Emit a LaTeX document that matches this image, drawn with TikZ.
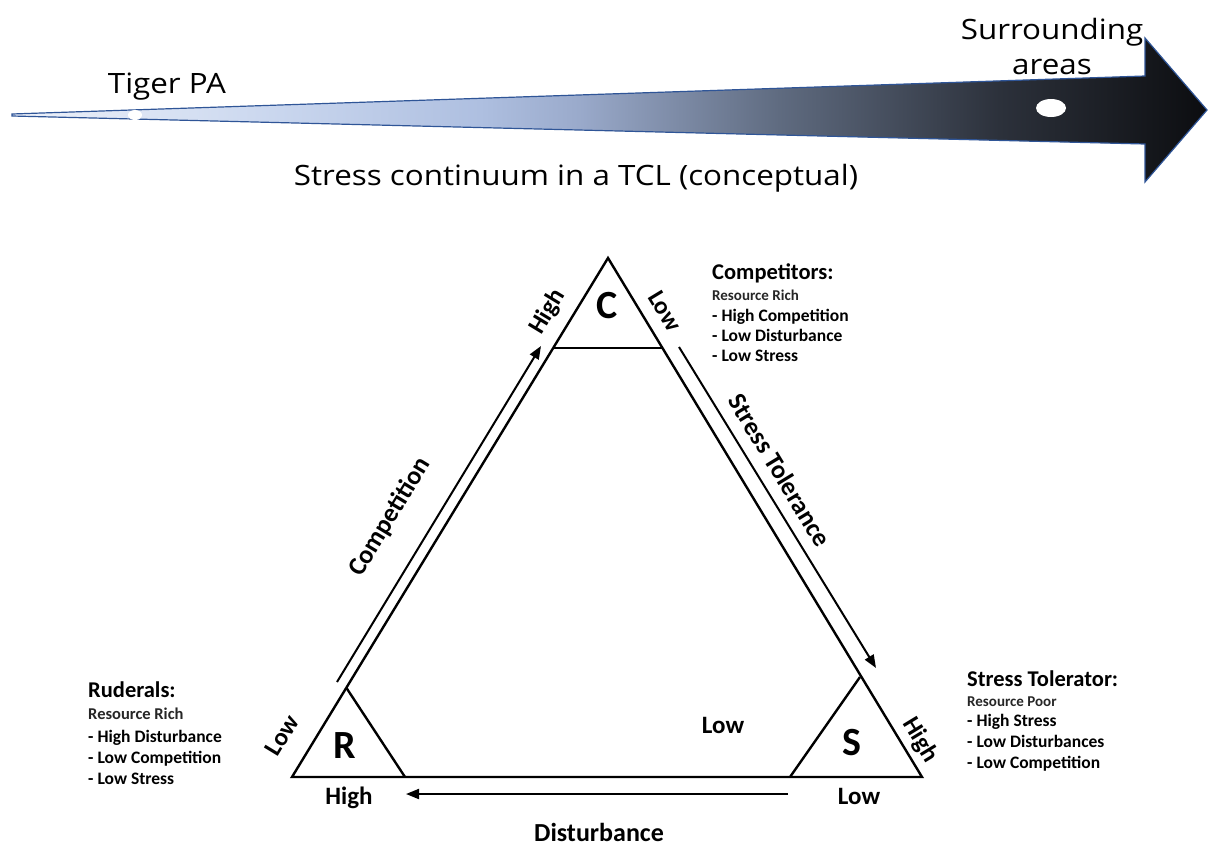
\documentclass[tikz,border=0pt]{standalone}
\usepackage{fontspec}
\setmainfont{Carlito}
\newfontfamily\topfont{Open Sans}
\usetikzlibrary{arrows.meta}
\definecolor{g0}{HTML}{EEF2FA}
\definecolor{g1}{HTML}{C9D6EE}
\definecolor{g2}{HTML}{AEBFE0}
\definecolor{g3}{HTML}{9AAACB}
\definecolor{g4}{HTML}{5F6B80}
\definecolor{g5}{HTML}{2C313B}
\definecolor{g6}{HTML}{0C0D10}
\definecolor{arrowblue}{HTML}{2F5597}
\pgfdeclarehorizontalshading{stressgrad}{100bp}{color(0bp)=(g0); color(25bp)=(g0); color(36.2bp)=(g1); color(44.6bp)=(g2); color(48.7bp)=(g3); color(57.1bp)=(g4); color(66.3bp)=(g5); color(75bp)=(g6); color(100bp)=(g6)}
\tikzset{
  tri/.style={line width=2.4pt, line join=miter},
  flow/.style={line width=2pt, -{Triangle[length=13pt,width=10pt]}},
  toptext/.style={font=\topfont\fontsize{28}{35}\selectfont, inner sep=0pt, xscale=1.12},
  corner/.style={font=\bfseries\fontsize{40}{40}\selectfont, inner sep=0pt},
  lbl/.style={font=\bfseries\fontsize{25}{25}\selectfont, inner sep=0pt},
  axis/.style={font=\bfseries\fontsize{26}{26}\selectfont, inner sep=0pt},
  infotitle/.style={font=\bfseries\fontsize{22.5}{22.5}\selectfont, inner sep=0pt, anchor=base west},
  infosub/.style={font=\bfseries\fontsize{15}{15}\selectfont, inner sep=0pt, anchor=base west, text=black!85},
  infoitem/.style={font=\bfseries\fontsize{17.5}{17.5}\selectfont, inner sep=0pt, anchor=base west},
}
\begin{document}
\begin{tikzpicture}[x=1pt,y=-1pt]
\useasboundingbox (0,0) rectangle (1208,844);
% ---------- top gradient arrow ----------
\path[shading=stressgrad, draw=arrowblue, line width=1.2pt, line join=miter]
  (12,114) -- (1145,76) -- (1145,38) -- (1207,110) -- (1145,182) -- (1145,144) -- (12,116) -- cycle;
\fill[white] (135,115) ellipse [x radius=7, y radius=5];
\fill[white] (1051,108) ellipse [x radius=15, y radius=9];
\node[toptext] (tiger) at (167,87) {Tiger PA};
\node[toptext, align=center] (surr) at (1052,46) {Surrounding\\areas};
\node[toptext] (cont) at (576,178) {Stress continuum in a TCL (conceptual)};
% ---------- triangle ----------
\coordinate (Capex) at (608,258);
\coordinate (Rc) at (292,777);
\coordinate (Sc) at (922,777);
\draw[tri] (Rc) -- (Capex) -- (Sc) -- cycle;
\coordinate (cl) at (553.3,348);
\coordinate (cr) at (662.3,348);
\draw[tri] (cl) -- (cr);
\coordinate (rt) at (346.5,688);
\coordinate (rb) at (405,777);
\draw[tri] (rt) -- (rb);
\coordinate (st) at (860,677);
\coordinate (sb) at (790,777);
\draw[tri] (st) -- (sb);
% ---------- axis arrows ----------
\coordinate (compA) at (337,682);
\coordinate (compB) at (541,346);
\draw[flow] (compA) -- (compB);
\coordinate (stA) at (679,347);
\coordinate (stB) at (876,668);
\draw[flow] (stA) -- (stB);
\coordinate (diA) at (788,794);
\coordinate (diB) at (406,794);
\draw[flow] (diA) -- (diB);
% ---------- corner letters ----------
\node[corner] (C) at (607,306) {C};
\node[corner] (R) at (345,746) {R};
\node[corner] (S) at (852,743) {S};
% ---------- High / Low labels ----------
\node[lbl, rotate=58.7] (hiC) at (548,312) {High};
\node[lbl, rotate=-58.7] (loC) at (665,311) {Low};
\node[lbl, rotate=58.7] (loR) at (282,735) {Low};
\node[lbl] (hiR) at (349,798) {High};
\node[lbl] (loIn) at (723,725) {Low};
\node[lbl] (loS) at (859,796) {Low};
\node[lbl, rotate=-58.7] (hiS) at (920,740) {High};
% ---------- axis names ----------
\node[axis, rotate=58.7] (compT) at (390,517) {Competition};
\node[axis, rotate=-58.7] (stT) at (780,470) {Stress Tolerance};
\node[axis] (diT) at (599,832) {Disturbance};
% ---------- Competitors ----------
\node[infotitle] (ct1) at (712,279) {Competitors:};
\node[infosub] (ct2) at (712,300) {Resource Rich};
\node[infoitem] (ct3) at (712,321) {- High Competition};
\node[infoitem] (ct4) at (712,341) {- Low Disturbance};
\node[infoitem] (ct5) at (712,361) {- Low Stress};
% ---------- Ruderals ----------
\node[infotitle] (rd1) at (88,697) {Ruderals:};
\node[infosub, font=\bfseries\fontsize{16.5}{16.5}\selectfont] (rd2) at (88,719) {Resource Rich};
\node[infoitem] (rd3) at (88,742) {- High Disturbance};
\node[infoitem] (rd4) at (88,763) {- Low Competition};
\node[infoitem] (rd5) at (88,784) {- Low Stress};
% ---------- Stress Tolerator ----------
\node[infotitle] (sd1) at (967,686) {Stress Tolerator:};
\node[infosub] (sd2) at (967,706) {Resource Poor};
\node[infoitem] (sd3) at (967,726) {- High Stress};
\node[infoitem] (sd4) at (967,747) {- Low Disturbances};
\node[infoitem] (sd5) at (967,768) {- Low Competition};
\end{tikzpicture}
\end{document}
